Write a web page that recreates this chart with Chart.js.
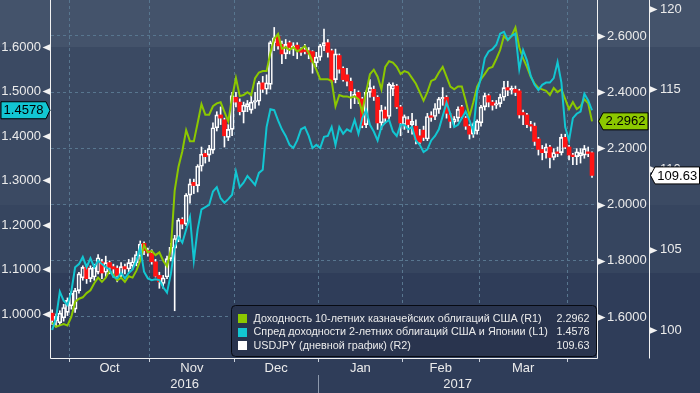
<!DOCTYPE html>
<html>
<head>
<meta charset="utf-8">
<title>USDJPY vs US yields</title>
<script src="https://cdn.jsdelivr.net/npm/chart.js@4.4.1/dist/chart.umd.min.js"></script>
<style>
html,body{margin:0;padding:0;background:#2f3d59;overflow:hidden;}
#box{position:relative;width:700px;height:393px;}
canvas{display:block;}
</style>
</head>
<body>
<div id="box"><canvas id="chart" width="700" height="393"></canvas></div>
<script>
// ---------- categories: trading days ----------
const FIRST_DAY = '2016-09-26';
const LAST_DAY = '2017-04-11';
const monthNames = ['Jan','Feb','Mar','Apr','May','Jun','Jul','Aug','Sep','Oct','Nov','Dec'];

const seriesNames = [
  'Доходность 10-летних казначейских облигаций США (R1)',
  'Спред доходности 2-летних облигаций США и Японии (L1)',
  'USDJPY (дневной график) (R2)'
];

// ---------- USDJPY daily candles (R2) ----------
const usdOpen = [
 101.05,100.55,100.45,100.75,101.10,101.50,101.30,102.45,103.25,103.90,
 103.20,103.30,103.60,104.25,103.60,104.20,103.95,103.85,103.40,103.95,
 103.80,104.00,104.20,104.60,105.40,104.95,104.80,104.25,103.40,102.90,
 103.30,104.45,105.10,105.65,106.90,106.60,108.40,109.20,109.00,110.20,
 111.00,110.90,111.20,112.60,113.40,113.10,112.00,112.50,114.50,114.20,
 113.60,113.90,113.70,114.20,114.25,115.40,115.00,115.30,117.90,118.30,
 117.80,117.20,117.90,117.50,117.75,117.50,117.45,117.40,117.35,116.65,
 117.00,117.70,117.90,117.40,115.60,117.10,116.30,115.90,115.50,114.50,
 114.80,114.40,112.80,114.80,115.00,114.50,112.90,113.70,113.30,115.00,
 115.20,113.90,112.80,113.10,112.80,112.70,112.10,112.45,111.90,113.35,
 113.30,113.75,114.40,114.50,113.40,112.95,113.20,113.90,113.20,112.70,
 112.20,112.40,112.90,113.90,114.60,114.20,114.00,114.10,114.50,115.10,
 114.95,115.00,114.90,113.55,113.40,112.80,112.70,111.90,111.25,111.05,
 111.40,110.75,111.10,111.05,112.00,111.40,110.90,110.80,110.85,110.90,
 111.10,111.05];
const usdHigh = [
 101.25,101.00,101.20,101.60,102.00,102.40,102.60,103.60,104.00,104.10,
 104.00,104.10,104.70,104.40,104.60,104.30,104.10,104.00,104.20,104.10,
 104.40,104.50,104.90,105.55,105.50,105.10,105.00,104.40,103.60,103.40,
 104.60,105.40,105.90,106.95,107.00,108.50,109.40,109.40,110.30,111.40,
 111.20,111.50,112.90,113.60,113.90,113.20,112.80,114.80,114.80,114.40,
 114.20,114.30,114.60,114.80,115.50,115.80,115.90,118.00,118.85,118.40,
 118.00,118.10,118.00,117.90,117.90,117.60,117.80,117.60,117.40,117.30,
 117.80,118.75,118.10,117.50,117.50,117.20,116.40,116.30,115.70,115.00,
 114.90,114.50,114.90,115.60,115.20,114.60,114.00,113.90,115.40,115.40,
 115.30,114.00,113.40,113.30,113.50,113.10,112.50,112.70,113.50,113.60,
 114.10,114.50,115.10,114.60,113.50,113.30,113.90,114.00,113.30,112.80,
 112.90,113.10,114.00,114.75,114.70,114.30,114.30,114.70,115.50,115.50,
 115.20,115.20,115.00,113.70,113.50,113.00,112.90,112.00,111.50,111.60,
 111.50,111.30,111.40,112.20,112.20,111.50,111.00,111.30,111.30,111.50,
 111.40,111.10];
const usdLow = [
 100.35,100.20,100.30,100.55,100.90,101.30,101.10,102.30,103.10,102.90,
 103.00,103.10,103.50,103.20,103.30,103.50,103.30,103.00,103.20,103.50,
 103.60,103.80,104.00,104.40,104.70,104.60,104.10,103.30,102.60,102.60,
 103.20,104.30,101.20,105.50,106.30,106.50,107.90,108.50,108.60,109.90,
 110.40,110.50,111.00,112.40,112.80,111.40,111.80,112.10,113.90,113.40,
 112.90,113.60,113.50,113.80,114.00,114.80,114.70,115.00,117.40,117.50,
 116.60,116.90,117.20,117.10,116.90,117.10,117.20,116.90,116.00,116.40,
 116.80,117.40,117.00,115.40,115.40,116.00,115.50,115.20,113.80,114.10,
 114.10,112.60,112.60,114.50,114.30,112.50,112.50,112.90,113.10,114.60,
 113.80,112.10,112.50,112.30,112.20,111.60,111.60,111.80,111.80,113.00,
 113.10,113.50,114.00,113.20,112.60,112.70,113.00,113.20,112.50,111.90,
 112.00,112.20,112.70,113.70,113.90,113.70,113.80,113.90,114.30,114.60,
 114.70,114.60,113.20,112.80,112.60,112.40,111.50,110.90,110.60,110.70,
 110.10,110.60,110.80,110.90,111.30,110.60,110.30,110.30,110.40,110.70,
 110.80,109.50];
const usdClose = [
 100.60,100.85,101.05,101.40,101.85,102.30,102.45,103.50,103.90,103.20,
 103.85,103.90,104.50,103.55,104.20,103.90,103.80,103.40,103.95,103.80,
 104.20,104.25,104.70,105.35,104.95,104.80,104.25,103.35,103.00,103.25,
 104.45,105.15,105.70,106.85,106.60,108.40,109.10,109.00,110.20,110.95,
 110.80,111.30,112.60,113.40,113.20,112.10,112.50,114.60,114.20,113.60,
 114.00,114.10,114.20,114.30,115.40,115.00,115.40,117.90,118.20,117.70,
 117.20,117.80,117.60,117.70,117.45,117.30,117.35,117.20,116.70,117.00,
 117.70,117.90,117.30,115.50,117.20,116.25,115.60,115.50,114.90,114.70,
 114.40,112.75,114.80,115.10,114.55,112.90,113.70,113.20,115.30,115.25,
 113.90,112.90,113.30,112.80,113.00,111.85,111.70,112.00,113.30,113.25,
 113.80,114.40,114.50,113.50,113.00,113.15,113.75,113.30,112.70,112.20,
 112.80,113.00,113.90,114.60,114.20,114.00,114.10,114.50,115.10,114.95,
 115.05,114.80,113.40,113.40,112.80,112.70,111.75,111.25,111.05,111.40,
 110.75,111.05,111.00,112.00,111.40,110.90,110.80,111.10,111.05,111.30,
 111.00,109.63];

// ---------- US 10y yield (R1) ----------
const ust10y = [
 1.580,1.565,1.570,1.575,1.570,1.600,1.654,1.665,1.670,1.685,
 1.695,1.720,1.740,1.725,1.740,1.765,1.750,1.730,1.740,1.725,
 1.745,1.740,1.765,1.800,1.855,1.830,1.835,1.820,1.830,1.800,
 1.780,1.840,2.050,2.135,2.190,2.265,2.225,2.225,2.290,2.357,
 2.320,2.320,2.350,2.360,2.364,2.330,2.296,2.380,2.450,2.386,
 2.390,2.400,2.390,2.450,2.470,2.475,2.475,2.540,2.590,2.607,
 2.555,2.560,2.550,2.560,2.545,2.553,2.564,2.540,2.510,2.480,
 2.446,2.446,2.446,2.440,2.350,2.390,2.385,2.385,2.380,2.385,
 2.375,2.330,2.400,2.464,2.480,2.455,2.410,2.490,2.510,2.505,
 2.490,2.465,2.475,2.470,2.450,2.430,2.400,2.370,2.400,2.440,
 2.446,2.470,2.490,2.455,2.420,2.410,2.420,2.420,2.370,2.314,
 2.364,2.420,2.446,2.465,2.485,2.490,2.518,2.550,2.600,2.585,
 2.600,2.630,2.560,2.520,2.490,2.455,2.430,2.415,2.410,2.405,
 2.390,2.415,2.400,2.410,2.375,2.340,2.365,2.340,2.350,2.375,
 2.360,2.2962];

// ---------- US-Japan 2y spread (L1) ----------
const spread2y = [
 0.964,0.990,1.050,1.030,1.020,1.050,1.105,1.112,1.128,1.105,
 1.125,1.105,1.120,1.112,1.105,1.100,1.083,1.080,1.092,1.080,
 1.092,1.100,1.120,1.150,1.095,1.080,1.076,1.078,1.076,1.060,
 1.048,1.090,1.150,1.173,1.160,1.190,1.218,1.120,1.190,1.235,
 1.240,1.245,1.275,1.285,1.260,1.250,1.258,1.268,1.320,1.285,
 1.295,1.310,1.300,1.290,1.317,1.324,1.420,1.460,1.458,1.435,
 1.415,1.400,1.380,1.373,1.390,1.415,1.420,1.400,1.373,1.380,
 1.373,1.398,1.400,1.420,1.380,1.420,1.405,1.415,1.410,1.436,
 1.405,1.440,1.458,1.425,1.410,1.390,1.420,1.430,1.436,1.410,
 1.400,1.425,1.425,1.415,1.420,1.390,1.380,1.364,1.370,1.390,
 1.400,1.415,1.445,1.475,1.450,1.420,1.425,1.440,1.455,1.435,
 1.410,1.500,1.530,1.575,1.590,1.595,1.605,1.630,1.634,1.616,
 1.625,1.630,1.550,1.593,1.570,1.535,1.515,1.503,1.515,1.520,
 1.520,1.530,1.566,1.520,1.420,1.390,1.440,1.450,1.455,1.495,
 1.480,1.4578];

// ---------- axis ranges ----------
const L1_MIN = 0.901, L1_MAX = 1.7056;
const R1_MIN = 1.454, R1_MAX = 2.728;
const R2_MIN = 98.256, R2_MAX = 120.56;

// ---------- derived ----------
function weekdays(from, to) {
  const out = [];
  const d = new Date(from + 'T00:00:00Z');
  const end = new Date(to + 'T00:00:00Z');
  while (d <= end) {
    const w = d.getUTCDay();
    if (w !== 0 && w !== 6) out.push(new Date(d.getTime()));
    d.setUTCDate(d.getUTCDate() + 1);
  }
  return out;
}
const days = weekdays(FIRST_DAY, LAST_DAY);
const N = days.length;
const X_MIN = -0.3, X_MAX = N + 0.3;

const boundaries = [];
for (let i = 1; i < N; i++) {
  if (days[i].getUTCMonth() !== days[i - 1].getUTCMonth()) {
    boundaries.push({ value: i - 0.5, month: days[i].getUTCMonth(), year: days[i].getUTCFullYear() });
  }
}
const monthTicks = [];
boundaries.forEach((b, k) => {
  monthTicks.push({ value: b.value, label: '', boundary: true });
  if (k + 1 < boundaries.length) {
    monthTicks.push({ value: (b.value + boundaries[k + 1].value) / 2, label: monthNames[b.month], boundary: false });
  }
});
monthTicks.sort((a, b) => a.value - b.value);
const yearBoundary = boundaries.find(b => b.month === 0);
const yearTicks = [
  { value: (X_MIN + yearBoundary.value) / 2, label: String(yearBoundary.year - 1) },
  { value: (yearBoundary.value + X_MAX) / 2, label: String(yearBoundary.year) }
];

function makeTicks(kFrom, kTo, step) {
  const t = [];
  for (let k = kFrom; k <= kTo; k++) t.push({ value: k * step, k: k, isMajor: k % 2 === 0 });
  return t;
}
const l1Ticks = makeTicks(18, 34, 0.05);
const r1Ticks = makeTicks(15, 27, 0.1);
const r2Ticks = makeTicks(39, 49, 2.5);
function findTick(list, v) { return list.find(t => Math.abs(t.value - v) < 1e-6); }

// ---------- styles ----------
const FONT = '"Liberation Sans", Arial, sans-serif';
const LABEL = '#ebebeb';
const GRID = '#58768f';
const AXIS = '#f2f2f2';
const GREEN = '#8cc800';
const CYAN = '#12c6d2';
const RED = '#ff1414';
Chart.defaults.font.family = FONT;

const isUp = usdClose.map((c, i) => c >= usdOpen[i]);

function noPad(s) { s.paddingTop = 0; s.paddingBottom = 0; s.paddingLeft = 0; s.paddingRight = 0; }

// ---------- plugins ----------
const bgPlugin = {
  id: 'bgBands',
  beforeDraw(chart) {
    const { ctx, width, height } = chart;
    const bands = [[0, 47, '#44536b'], [47, 205, '#3b4a63'], [205, 273, '#36455f'], [273, height, '#2f3d59']];
    ctx.save();
    bands.forEach(b => { ctx.fillStyle = b[2]; ctx.fillRect(0, b[0], width, b[1] - b[0]); });
    ctx.restore();
  }
};

const legendPlugin = {
  id: 'legendBox',
  afterDatasetsDraw(chart) {
    const { ctx, chartArea: a } = chart;
    const w = 366, h = 51;
    const x0 = a.right - w + 0.5, y0 = a.bottom - h - 1.5;
    ctx.save();
    ctx.beginPath();
    ctx.roundRect(x0, y0, w - 1, h, 4);
    ctx.fillStyle = '#29344e';
    ctx.fill();
    ctx.strokeStyle = '#070a12';
    ctx.lineWidth = 1;
    ctx.stroke();
    const rows = [
      { color: GREEN, name: seriesNames[0], val: ust10y[N - 1].toFixed(4) },
      { color: CYAN, name: seriesNames[1], val: spread2y[N - 1].toFixed(4) },
      { color: '#ffffff', name: seriesNames[2], val: usdClose[N - 1].toFixed(2) }
    ];
    ctx.font = '10.8px ' + FONT;
    ctx.textBaseline = 'middle';
    rows.forEach((r, i) => {
      const cy = y0 + 13 + i * 13.5;
      ctx.fillStyle = r.color;
      ctx.fillRect(Math.round(x0) + 6, Math.round(cy - 4.5), 9, 9);
      ctx.fillStyle = '#ececec';
      ctx.textAlign = 'left';
      ctx.fillText(r.name, x0 + 22, cy + 0.5);
      ctx.textAlign = 'right';
      ctx.fillText(r.val, x0 + w - 8, cy + 0.5);
    });
    ctx.restore();
  }
};

function tag(ctx, y, tipX, bx0, bx1, fill, text) {
  const hh = 8.5;
  ctx.beginPath();
  if (tipX > bx1) {
    ctx.moveTo(bx0, y - hh); ctx.lineTo(bx1, y - hh); ctx.lineTo(tipX, y);
    ctx.lineTo(bx1, y + hh); ctx.lineTo(bx0, y + hh);
  } else {
    ctx.moveTo(tipX, y); ctx.lineTo(bx0, y - hh); ctx.lineTo(bx1, y - hh);
    ctx.lineTo(bx1, y + hh); ctx.lineTo(bx0, y + hh);
  }
  ctx.closePath();
  ctx.fillStyle = fill; ctx.fill();
  ctx.strokeStyle = '#000000'; ctx.lineWidth = 1; ctx.stroke();
  ctx.fillStyle = '#000000';
  ctx.font = '13px ' + FONT;
  ctx.textAlign = 'center';
  ctx.textBaseline = 'middle';
  ctx.fillText(text, (bx0 + bx1) / 2, y + 0.5);
}

const axisPlugin = {
  id: 'axisDeco',
  afterDraw(chart) {
    const { ctx, chartArea: a, scales } = chart;
    ctx.save();
    ctx.strokeStyle = AXIS; ctx.fillStyle = AXIS; ctx.lineWidth = 1;
    const lx = Math.round(scales.l1.right) - 0.5;
    const r1x = Math.round(scales.r1.left) + 0.5;
    const r2x = Math.round(scales.r2.left) + 0.5;
    const by = Math.round(a.bottom) + 0.5;
    ctx.beginPath();
    ctx.moveTo(lx, 0); ctx.lineTo(lx, by);
    ctx.moveTo(lx, by); ctx.lineTo(r1x, by);
    ctx.moveTo(r1x, 0); ctx.lineTo(r1x, by);
    ctx.moveTo(r2x, 0); ctx.lineTo(r2x, by);
    ctx.stroke();
    const defs = [['l1', lx, -1], ['r1', r1x, 1], ['r2', r2x, 1]];
    defs.forEach(([id, ax, side]) => {
      const s = scales[id];
      s.ticks.forEach(t => {
        const y = Math.round(s.getPixelForValue(t.value)) + 0.5;
        if (y < a.top - 1 || y > a.bottom + 1) return;
        if (t.isMajor) {
          ctx.beginPath();
          ctx.moveTo(ax, y - 3.5); ctx.lineTo(ax, y + 3.5); ctx.lineTo(ax + side * 8, y);
          ctx.closePath(); ctx.fill();
        } else {
          ctx.beginPath();
          ctx.moveTo(ax, y); ctx.lineTo(ax + side * 4, y); ctx.stroke();
        }
      });
    });
    const sx = Math.round(scales.x.getPixelForValue(yearBoundary.value)) + 0.5;
    ctx.strokeStyle = '#8d99ad';
    ctx.beginPath(); ctx.moveTo(sx, scales.xy.top - 1); ctx.lineTo(sx, chart.height); ctx.stroke();
    tag(ctx, scales.l1.getPixelForValue(spread2y[N - 1]), lx - 0.5, 1, lx - 4.5, CYAN, spread2y[N - 1].toFixed(4));
    tag(ctx, scales.r1.getPixelForValue(ust10y[N - 1]), r1x + 1, r1x + 5.5, r2x - 1.5, GREEN, ust10y[N - 1].toFixed(4));
    tag(ctx, scales.r2.getPixelForValue(usdClose[N - 1]), r2x + 1, r2x + 5.5, chart.width - 0.5, '#ffffff', usdClose[N - 1].toFixed(2));
    ctx.restore();
  }
};

// ---------- datasets ----------
const bodyData = usdOpen.map((o, i) => ({ x: i, y: [o, usdClose[i]] }));
const upperWick = usdHigh.map((h, i) => ({ x: i, y: [Math.max(usdOpen[i], usdClose[i]), h] }));
const lowerWick = usdLow.map((l, i) => ({ x: i, y: [l, Math.min(usdOpen[i], usdClose[i])] }));

const yTickFont = { size: 13, lineHeight: 1 };

function yScale(pos, min, max, list, width, tl, labelFn, extra) {
  return Object.assign({
    type: 'linear', position: pos, min: min, max: max, bounds: 'data',
    afterBuildTicks: s => { s.ticks = list.map(t => ({ value: t.value, isMajor: t.isMajor })); },
    afterFit: s => { s.width = width; noPad(s); },
    ticks: { autoSkip: false, padding: 0, color: LABEL, font: yTickFont, callback: v => labelFn(findTick(list, v)) },
    grid: { drawOnChartArea: false, drawTicks: true, tickLength: tl, tickColor: 'rgba(0,0,0,0)' },
    border: { display: false }
  }, extra || {});
}

const r1Grid = {
  grid: {
    drawOnChartArea: true, drawTicks: true, tickLength: 10, tickColor: 'rgba(0,0,0,0)', lineWidth: 1,
    color: c => { const t = c.tick && findTick(r1Ticks, c.tick.value); return t && t.isMajor ? GRID : 'rgba(0,0,0,0)'; }
  },
  border: { display: false, dash: [3, 3] },
  weight: 0
};

const chart = new Chart(document.getElementById('chart'), {
  type: 'bar',
  data: {
    datasets: [
      { type: 'line', label: seriesNames[1], data: spread2y.map((v, i) => ({ x: i, y: v })), yAxisID: 'l1', xAxisID: 'x',
        borderColor: CYAN, borderWidth: 2, pointRadius: 0, tension: 0, order: 0 },
      { type: 'line', label: seriesNames[0], data: ust10y.map((v, i) => ({ x: i, y: v })), yAxisID: 'r1', xAxisID: 'x',
        borderColor: GREEN, borderWidth: 2, pointRadius: 0, tension: 0, order: 1 },
      { type: 'bar', label: 'body', data: bodyData, yAxisID: 'r2', xAxisID: 'x', grouped: false, barThickness: 4,
        backgroundColor: isUp.map(u => u ? 'rgba(0,0,0,0)' : RED),
        borderColor: isUp.map(u => u ? '#ffffff' : RED),
        borderWidth: isUp.map(u => u ? 1 : 0), borderSkipped: false, order: 2 },
      { type: 'bar', label: 'upper', data: upperWick, yAxisID: 'r2', xAxisID: 'x', grouped: false, barThickness: 1,
        backgroundColor: '#ffffff', borderWidth: 0, order: 3 },
      { type: 'bar', label: 'lower', data: lowerWick, yAxisID: 'r2', xAxisID: 'x', grouped: false, barThickness: 1,
        backgroundColor: '#ffffff', borderWidth: 0, order: 3 }
    ]
  },
  options: {
    responsive: false,
    animation: false,
    devicePixelRatio: 1,
    events: [],
    layout: { padding: 0, autoPadding: false },
    plugins: { legend: { display: false }, tooltip: { enabled: false } },
    scales: {
      x: {
        type: 'linear', position: 'bottom', min: X_MIN, max: X_MAX, offset: false, bounds: 'data', weight: 0,
        afterBuildTicks: s => { s.ticks = monthTicks.map(t => ({ value: t.value })); },
        afterFit: s => { s.height = 18; noPad(s); },
        ticks: { autoSkip: false, maxRotation: 0, minRotation: 0, padding: 0, color: LABEL, font: { size: 13, lineHeight: 1 },
          callback: v => { const t = findTick(monthTicks, v); return t ? t.label : null; } },
        grid: {
          offset: false, drawOnChartArea: true, drawTicks: true, tickLength: 4, lineWidth: 1, tickWidth: 1, tickBorderDash: [],
          color: c => { const t = c.tick && findTick(monthTicks, c.tick.value); return t && t.boundary ? GRID : 'rgba(0,0,0,0)'; },
          tickColor: c => { const t = c.tick && findTick(monthTicks, c.tick.value); return t && t.boundary ? '#c9d0dc' : 'rgba(0,0,0,0)'; }
        },
        border: { display: false, dash: [3, 3] }
      },
      xy: {
        type: 'linear', position: 'bottom', min: X_MIN, max: X_MAX, offset: false, bounds: 'data', weight: 1,
        afterBuildTicks: s => { s.ticks = yearTicks.map(t => ({ value: t.value })); },
        afterFit: s => { s.height = 17; noPad(s); },
        ticks: { autoSkip: false, maxRotation: 0, minRotation: 0, padding: 2, color: LABEL, font: { size: 13, lineHeight: 1 },
          callback: v => { const t = findTick(yearTicks, v); return t ? t.label : null; } },
        grid: { display: false, drawTicks: false, drawOnChartArea: false, offset: false },
        border: { display: false }
      },
      l1: yScale('left', L1_MIN, L1_MAX, l1Ticks, 51, 10,
        t => (t && t.isMajor && t.k >= 20 && t.k <= 32) ? t.value.toFixed(4) : null),
      r1: yScale('right', R1_MIN, R1_MAX, r1Ticks, 52, 10,
        t => (t && t.isMajor && t.k >= 16 && t.k <= 26) ? t.value.toFixed(4) : null, r1Grid),
      r2: yScale('right', R2_MIN, R2_MAX, r2Ticks, 51, 11,
        t => (t && t.isMajor && t.k >= 40 && t.k <= 48) ? String(Math.round(t.value)) : null,
        { weight: 1 })
    }
  },
  plugins: [bgPlugin, legendPlugin, axisPlugin]
});
</script>
</body>
</html>
